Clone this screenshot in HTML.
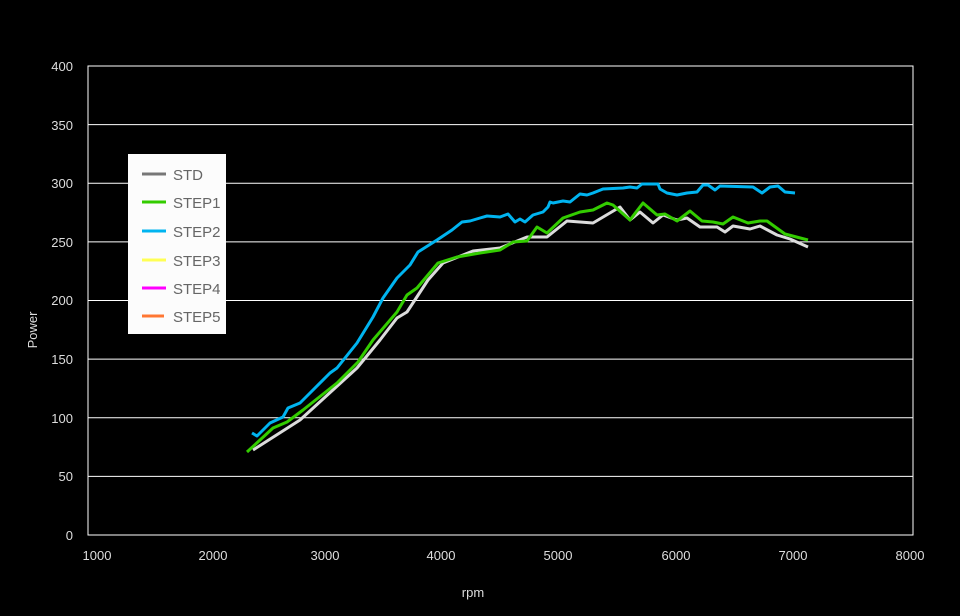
<!DOCTYPE html>
<html><head><meta charset="utf-8"><style>
html,body{margin:0;padding:0;background:#000;}
svg{display:block;font-family:"Liberation Sans",sans-serif;}
</style></head><body>
<svg width="960" height="616" viewBox="0 0 960 616">
<rect width="960" height="616" fill="#000"/>
<g stroke="#fff" stroke-width="1">
<line x1="88" y1="124.6" x2="913" y2="124.6"/>
<line x1="88" y1="183.2" x2="913" y2="183.2"/>
<line x1="88" y1="241.9" x2="913" y2="241.9"/>
<line x1="88" y1="300.5" x2="913" y2="300.5"/>
<line x1="88" y1="359.1" x2="913" y2="359.1"/>
<line x1="88" y1="417.8" x2="913" y2="417.8"/>
<line x1="88" y1="476.4" x2="913" y2="476.4"/>
<rect x="88" y="66" width="825" height="469" fill="none"/>
</g>
<g fill="#ddd" font-size="13" text-anchor="end">
<text x="73" y="71">400</text><text x="73" y="130">350</text><text x="73" y="188">300</text>
<text x="73" y="247">250</text><text x="73" y="305">200</text><text x="73" y="364">150</text>
<text x="73" y="423">100</text><text x="73" y="481">50</text><text x="73" y="540">0</text>
</g>
<g fill="#ddd" font-size="13" text-anchor="middle">
<text x="97" y="560">1000</text><text x="213" y="560">2000</text><text x="325" y="560">3000</text>
<text x="441" y="560">4000</text><text x="558" y="560">5000</text><text x="676" y="560">6000</text>
<text x="793" y="560">7000</text><text x="910" y="560">8000</text>
<text x="473" y="597">rpm</text>
<text x="0" y="0" transform="translate(37,330) rotate(-90)">Power</text>
</g>
<g fill="none" stroke-width="3" stroke-linejoin="round">
<polyline stroke="#dcdcdc" points="253,450 300,420 357,368 380,340 397,318 407,312 428,280 443,263 473,251 500,248 527,237 547,237 567,221 593,223 620,207 630,220 640,212 653,223 663,215 677,220 687,218 700,227 717,227 725,232 733,226 750,229 760,226 777,235 790,239 808,247"/>
<polyline stroke="#33cc00" points="247,452 273,428 287,422 303,410 337,383 358,362 373,340 397,312 407,295 417,288 438,263 457,257 480,253 500,250 513,242 527,241 537,227 547,233 563,218 580,212 593,210 607,203 613,205 630,220 643,203 657,215 665,214 677,221 690,211 702,221 713,222 723,224 733,217 748,223 760,221 767,221 785,234 808,240"/>
<polyline stroke="#00b4f0" points="252,433 257,436 270,423 283,417 288,408 300,403 310,393 330,373 337,368 357,343 373,317 383,298 397,278 410,265 418,252 437,240 452,230 462,222 470,221 480,218 487,216 500,217 508,214 515,222 520,219 525,222 533,215 543,212 548,207 550,202 553,203 563,201 570,202 580,194 587,195 593,193 603,189 623,188 630,187 637,188 642,184 658,184 660,189 667,193 677,195 687,193 697,192 703,185 708,185 715,190 720,186 753,187 762,193 770,187 778,186 785,192 795,193"/>
</g>
<rect x="128" y="154" width="98" height="180" fill="#fcfcfc"/>
<g stroke-width="3">
<line x1="142" y1="174" x2="166" y2="174" stroke="#777"/>
<line x1="142" y1="202" x2="166" y2="202" stroke="#33cc00"/>
<line x1="142" y1="231" x2="166" y2="231" stroke="#00b4f0"/>
<line x1="142" y1="260" x2="166" y2="260" stroke="#ffff55"/>
<line x1="142" y1="288" x2="166" y2="288" stroke="#ff00ff"/>
<line x1="142" y1="316" x2="164" y2="316" stroke="#ff7733"/>
</g>
<g fill="#666" font-size="15">
<text x="173" y="180">STD</text><text x="173" y="208">STEP1</text><text x="173" y="237">STEP2</text>
<text x="173" y="266">STEP3</text><text x="173" y="294">STEP4</text><text x="173" y="322">STEP5</text>
</g>
</svg>
</body></html>
